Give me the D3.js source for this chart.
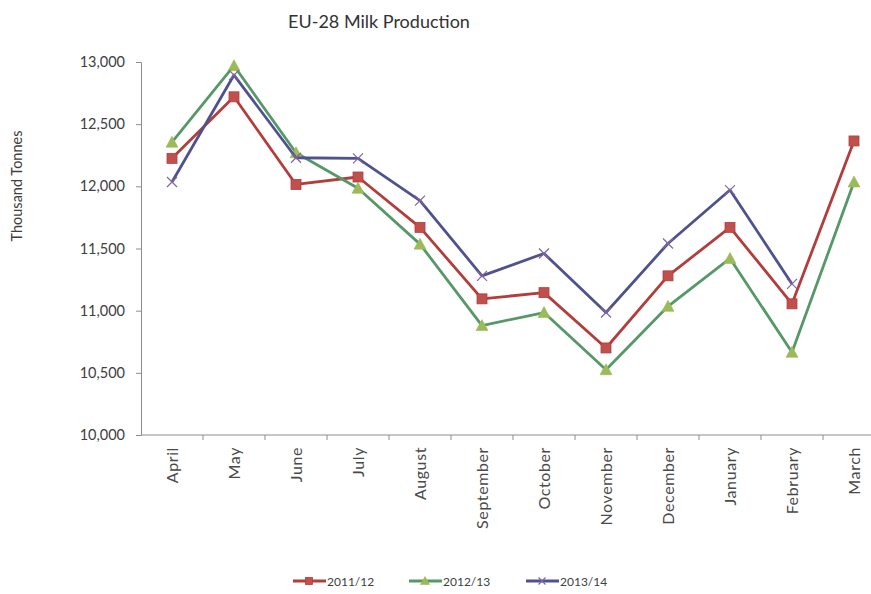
<!DOCTYPE html>
<html>
<head>
<meta charset="utf-8">
<script src="https://cdn.jsdelivr.net/npm/d3@7"></script>
<style>
  html, body { margin: 0; padding: 0; background: #fff; }
  svg { display: block; font-family: Lato, "Open Sans", sans-serif; }
</style>
</head>
<body>
<svg id="chart" width="871" height="594"></svg>
<script>
// Monthly EU-28 milk production, thousand tonnes, by marketing year (April–March)
const months = ["April", "May", "June", "July", "August", "September", "October",
                "November", "December", "January", "February", "March"];
const yTicks = [10000, 10500, 11000, 11500, 12000, 12500, 13000];

const prod2011 = [12225, 12720, 12015, 12075, 11670, 11095, 11145, 10700, 11280, 11670, 11055, 12365];
const prod2012 = [12355, 12970, 12270, 11985, 11535, 10880, 10985, 10525, 11035, 11420, 10665, 12035];
const prod2013 = [12035, 12895, 12230, 12225, 11885, 11280, 11460, 10985, 11540, 11970, 11215, null];

const seriesNames = ["2011/12", "2012/13", "2013/14"];
const seriesValues = [prod2011, prod2012, prod2013];

const styles = [
  { line: "#B23E3C", fill: "#C0504D", marker: "square" },
  { line: "#569867", fill: "#9BBB59", marker: "triangle" },
  { line: "#50528E", fill: "#8064A2", marker: "cross" }
];

const svg = d3.select("#chart");
const margin = { left: 141, top: 62, bottom: 435, right: 885 };

const x = d3.scaleBand().domain(months).range([margin.left, margin.right]).padding(0);
const y = d3.scaleLinear().domain([10000, 13000]).range([margin.bottom, margin.top]);

const axisColor = "#8c8c8c";
const textColor = "#404040";

// Title
svg.append("text")
  .attr("x", 379).attr("y", 28)
  .attr("text-anchor", "middle")
  .attr("font-size", 18)
  .attr("fill", "#333")
  .text("EU-28 Milk Production");

// Y axis
const yAxis = svg.append("g")
  .attr("transform", `translate(${margin.left},0)`)
  .call(d3.axisLeft(y).tickValues(yTicks).tickSize(5).tickPadding(11)
    .tickFormat(d3.format(",")));
yAxis.select(".domain").attr("stroke", axisColor);
yAxis.selectAll(".tick line").attr("stroke", axisColor);
yAxis.selectAll(".tick text").attr("fill", textColor).attr("font-size", 14.5)
  .attr("font-family", "Lato, sans-serif");

// Y axis title
svg.append("text")
  .attr("transform", `translate(22,186) rotate(-90)`)
  .attr("text-anchor", "middle")
  .attr("font-size", 14.5)
  .attr("fill", textColor)
  .text("Thousand Tonnes");

// X axis with ticks on category boundaries
const xAxis = svg.append("g")
  .attr("transform", `translate(0,${margin.bottom})`);
xAxis.append("line")
  .attr("x1", margin.left).attr("x2", margin.right)
  .attr("stroke", axisColor);
xAxis.selectAll("line.tick")
  .data(months)
  .join("line")
  .attr("class", "tick")
  .attr("x1", d => x(d) + x.bandwidth()).attr("x2", d => x(d) + x.bandwidth())
  .attr("y1", 0).attr("y2", 5)
  .attr("stroke", axisColor);
xAxis.selectAll("text")
  .data(months)
  .join("text")
  .attr("transform", d => `translate(${x(d) + x.bandwidth() / 2 + 6},12) rotate(-90)`)
  .attr("text-anchor", "end")
  .attr("font-size", 16)
  .attr("letter-spacing", 0.6)
  .attr("fill", "#4a4a4a")
  .text(d => d);

const cx = m => x(m) + x.bandwidth() / 2;

function drawMarker(g, type, st, size) {
  const h = size / 2;
  if (type === "square") {
    g.append("rect").attr("x", -h).attr("y", -h).attr("width", size).attr("height", size)
      .attr("fill", st.fill).attr("stroke", st.line).attr("stroke-width", 0.8);
  } else if (type === "triangle") {
    g.append("path").attr("d", `M0,${-h - 1}L${h + 1},${h}L${-h - 1},${h}Z`)
      .attr("fill", st.fill).attr("stroke", st.fill).attr("stroke-width", 0.6);
  } else {
    g.append("path").attr("d", `M${-h},${-h}L${h},${h}M${-h},${h}L${h},${-h}`)
      .attr("stroke", st.fill).attr("stroke-width", 1.2).attr("fill", "none");
  }
}

// Series lines and markers
seriesValues.forEach((vals, i) => {
  const st = styles[i];
  const pts = months.map((m, j) => ({ m, v: vals[j] })).filter(p => p.v != null);
  const line = d3.line().x(p => cx(p.m)).y(p => y(p.v));
  svg.append("path")
    .datum(pts)
    .attr("d", line)
    .attr("fill", "none")
    .attr("stroke", st.line)
    .attr("stroke-width", 2.8)
    .attr("stroke-linejoin", "round");
  pts.forEach(p => {
    const g = svg.append("g").attr("transform", `translate(${cx(p.m)},${y(p.v)})`);
    drawMarker(g, st.marker, st, 10);
  });
});

// Legend
const legendX = [293, 409, 526];
seriesNames.forEach((name, i) => {
  const st = styles[i];
  const g = svg.append("g").attr("transform", `translate(${legendX[i]},581)`);
  g.append("line").attr("x1", 0).attr("x2", 33).attr("stroke", st.line).attr("stroke-width", 2.8);
  const mg = g.append("g").attr("transform", "translate(16,0)");
  drawMarker(mg, st.marker, st, 7);
  g.append("text").attr("x", 34).attr("y", 4.5)
    .attr("font-size", 12).attr("fill", textColor).text(name);
});
</script>
</body>
</html>
